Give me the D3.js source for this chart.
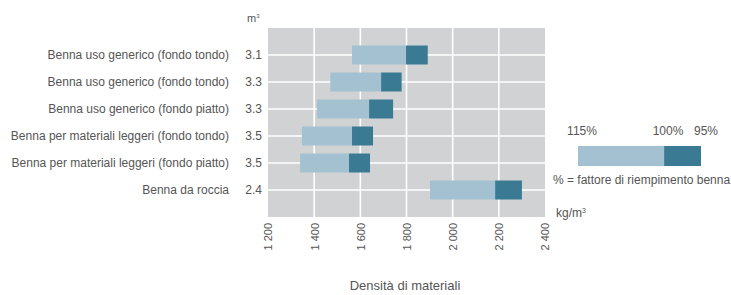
<!DOCTYPE html>
<html>
<head>
<meta charset="utf-8">
<script src="https://cdn.jsdelivr.net/npm/d3@7"></script>
<style>
  body { margin: 0; background: #fff; }
  svg text { font-family: "Liberation Sans", Arial, sans-serif; fill: #555; }
</style>
</head>
<body>
<svg class="chart"></svg>
<script>
// Data
const categories = [
    "Benna uso generico (fondo tondo)",
    "Benna uso generico (fondo tondo) ",
    "Benna uso generico (fondo piatto)",
    "Benna per materiali leggeri (fondo tondo)",
    "Benna per materiali leggeri (fondo piatto)",
    "Benna da roccia"
];
const volumes = ["3.1", "3.3", "3.3", "3.5", "3.5", "2.4"];
const density115 = [1564, 1470, 1412, 1347, 1339, 1902];
const density100 = [1798, 1690, 1638, 1564, 1551, 2184];
const density95 = [1892, 1779, 1742, 1655, 1642, 2300];
const xTicks = [1200, 1400, 1600, 1800, 2000, 2200, 2400];
const legendLabels = ["115%", "100%", "95%"];

function makeChart() {
    const svgWidth = 731, svgHeight = 295;
    const plot = { left: 268, right: 545, top: 28, bottom: 217 };

    const svg = d3.select(".chart")
        .attr("width", svgWidth)
        .attr("height", svgHeight);

    const x = d3.scaleLinear()
        .domain([1200, 2400])
        .range([plot.left, plot.right]);

    const y = d3.scalePoint()
        .domain(d3.range(categories.length))
        .range([plot.top, plot.bottom])
        .padding(1);

    const barH = 19;
    const light = "#a3c1d0", dark = "#3b7a93";

    // background
    svg.append("rect")
        .attr("x", plot.left).attr("y", plot.top)
        .attr("width", plot.right - plot.left)
        .attr("height", plot.bottom - plot.top)
        .attr("fill", "#d1d2d4");

    // grid
    svg.append("g").selectAll("line")
        .data(xTicks.slice(1, -1))
        .enter().append("line")
        .attr("x1", d => x(d)).attr("x2", d => x(d))
        .attr("y1", plot.top).attr("y2", plot.bottom)
        .attr("stroke", "#fff").attr("stroke-width", 1.6);

    svg.append("g").selectAll("line")
        .data(d3.range(categories.length))
        .enter().append("line")
        .attr("x1", plot.left).attr("x2", plot.right)
        .attr("y1", d => y(d)).attr("y2", d => y(d))
        .attr("stroke", "#fff").attr("stroke-width", 1.6);

    // bars
    const rows = svg.append("g").selectAll("g")
        .data(d3.range(categories.length))
        .enter().append("g");

    rows.append("rect")
        .attr("x", i => x(density115[i]))
        .attr("y", i => y(i) - barH / 2)
        .attr("width", i => x(density100[i]) - x(density115[i]))
        .attr("height", barH)
        .attr("fill", light);

    rows.append("rect")
        .attr("x", i => x(density100[i]))
        .attr("y", i => y(i) - barH / 2)
        .attr("width", i => x(density95[i]) - x(density100[i]))
        .attr("height", barH)
        .attr("fill", dark);

    // row labels
    rows.append("text")
        .attr("x", 229)
        .attr("y", i => y(i) + 4)
        .attr("text-anchor", "end")
        .style("font-size", "12px")
        .text(i => categories[i].trim());

    rows.append("text")
        .attr("x", 262)
        .attr("y", i => y(i) + 4)
        .attr("text-anchor", "end")
        .style("font-size", "12px")
        .text(i => volumes[i]);

    // m3 unit
    const m3 = svg.append("text")
        .attr("x", 247).attr("y", 22)
        .style("font-size", "11px");
    m3.append("tspan").text("m");
    m3.append("tspan").attr("dy", -4).style("font-size", "6px").text("3");

    // x axis
    const fmt = d3.formatLocale({ decimal: ",", thousands: " ", grouping: [3], currency: ["", ""] }).format(",");
    const axis = svg.append("g")
        .attr("transform", `translate(0,${plot.bottom})`)
        .call(d3.axisBottom(x).tickValues(xTicks).tickFormat(fmt).tickSize(0));
    axis.select(".domain").remove();
    axis.selectAll("text")
        .attr("transform", "rotate(-90)")
        .attr("text-anchor", "end")
        .attr("x", -6)
        .attr("y", 0)
        .attr("dy", "0.35em")
        .style("font-family", "Liberation Sans, Arial, sans-serif")
        .style("font-size", "11px")
        .attr("fill", "#666");

    svg.append("text")
        .attr("x", 405).attr("y", 290)
        .attr("text-anchor", "middle")
        .style("font-size", "13px")
        .text("Densità di materiali");

    // legend
    const lx = d3.scaleLinear().domain([0, 1]).range([578, 701]);
    const lg = svg.append("g");
    lg.append("rect").attr("x", lx(0)).attr("y", 146)
        .attr("width", lx(0.7) - lx(0)).attr("height", 20).attr("fill", light);
    lg.append("rect").attr("x", lx(0.7)).attr("y", 146)
        .attr("width", lx(1) - lx(0.7)).attr("height", 20).attr("fill", dark);
    lg.selectAll("text.pct")
        .data(legendLabels)
        .enter().append("text")
        .attr("class", "pct")
        .attr("x", (d, i) => [582, 668, 706][i])
        .attr("y", 135)
        .attr("text-anchor", "middle")
        .style("font-size", "12px")
        .text(d => d);
    lg.append("text").attr("x", 553).attr("y", 184)
        .style("font-size", "12px")
        .text("% = fattore di riempimento benna");
    const kg = lg.append("text").attr("x", 556).attr("y", 217)
        .style("font-size", "12px");
    kg.append("tspan").text("kg/m");
    kg.append("tspan").attr("dy", -4).style("font-size", "7px").text("3");
}

makeChart();
</script>
</body>
</html>
